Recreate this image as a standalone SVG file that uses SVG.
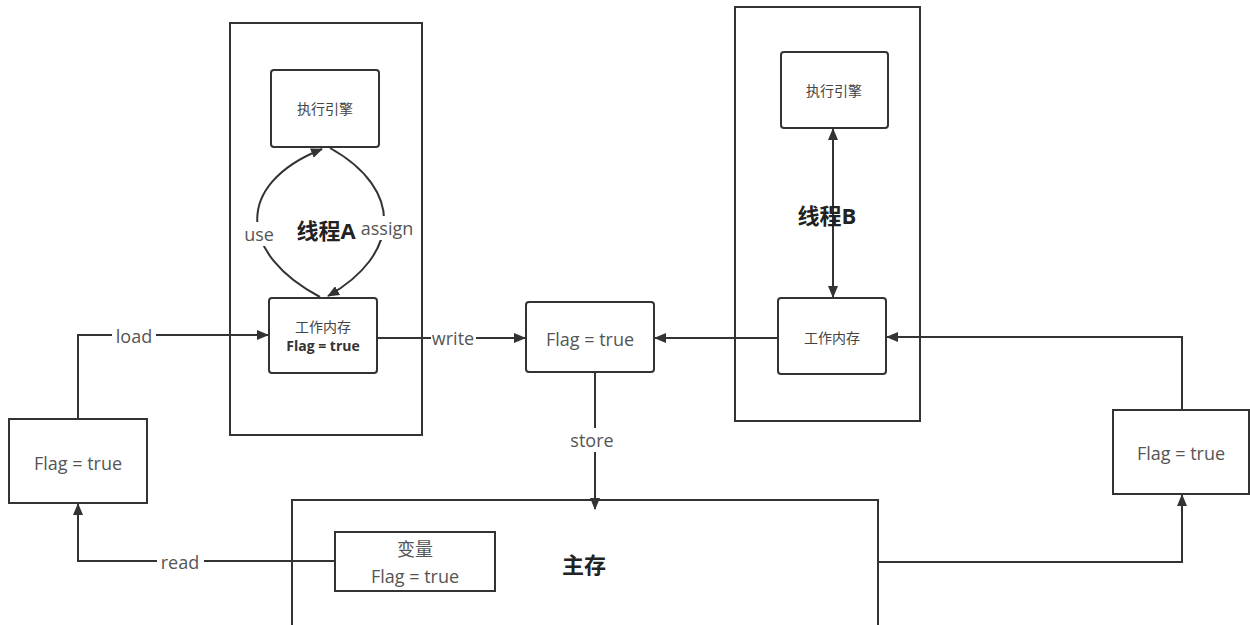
<svg xmlns="http://www.w3.org/2000/svg" width="1250" height="625" viewBox="0 0 1250 625">
<defs>
<marker id="ah" markerWidth="12" markerHeight="10" refX="11" refY="5" orient="auto-start-reverse" markerUnits="userSpaceOnUse">
<path d="M0,0 L12,5 L0,10 z" fill="#333"/>
</marker>
<style>
text{font-family:"Open Sans","Noto Sans","Noto Sans CJK SC",sans-serif;fill:#555;text-anchor:middle;dominant-baseline:central}
.box{fill:#fff;stroke:#333;stroke-width:2}
.ln{fill:none;stroke:#333;stroke-width:2}
.lbl{font-size:18px}
.sm{font-size:14px;fill:#444}
.smb{font-size:14px;font-weight:bold;fill:#333}
.big{font-size:22px;font-weight:bold;fill:#222}
.bg{fill:#fff;stroke:none}
</style>
</defs>
<rect width="1250" height="625" fill="#fff"/>

<g id="threadA">
<rect class="box" x="230" y="23" width="192" height="412"/>
</g>
<g id="threadB">
<rect class="box" x="735" y="7" width="185" height="414"/>
</g>
<g id="mainMemory">
<rect class="box" x="292" y="500" width="586" height="140"/>
<text class="big" x="584" y="564">主存</text>
</g>

<g id="connectors">
<path class="ln" d="M320,297 C240,255 232,185 322,149" marker-end="url(#ah)"/>
<path class="ln" d="M330,148 C405,190 400,255 328,296" marker-end="url(#ah)"/>
<path class="ln" d="M833,129 L833,297" marker-start="url(#ah)" marker-end="url(#ah)"/>
<path class="ln" d="M78,419 L78,335 L268,335" marker-end="url(#ah)"/>
<path class="ln" d="M335,561 L78,561 L78,504" marker-end="url(#ah)"/>
<path class="ln" d="M377,338 L525,338" marker-end="url(#ah)"/>
<path class="ln" d="M778,338 L655,338" marker-end="url(#ah)"/>
<path class="ln" d="M595,373 L595,509" marker-end="url(#ah)"/>
<path class="ln" d="M878,562 L1182,562 L1182,495" marker-end="url(#ah)"/>
<path class="ln" d="M1182,410 L1182,337 L887,337" marker-end="url(#ah)"/>
<rect class="bg" x="242" y="222" width="34" height="24"/>
<text class="lbl" x="259" y="234">use</text>
<rect class="bg" x="359" y="216" width="57" height="24"/>
<text class="lbl" x="387" y="228">assign</text>
<rect class="bg" x="112" y="324" width="44" height="24"/>
<text class="lbl" x="134" y="336">load</text>
<rect class="bg" x="157" y="550" width="47" height="24"/>
<text class="lbl" x="180" y="562">read</text>
<rect class="bg" x="431" y="327" width="45" height="24"/>
<text class="lbl" x="453" y="338">write</text>
<rect class="bg" x="567" y="428" width="51" height="24"/>
<text class="lbl" x="592" y="440">store</text>
</g>

<g id="threadA-label"><text class="big" x="326" y="230">线程A</text></g>
<g id="threadB-label"><text class="big" x="827" y="215">线程B</text></g>

<g id="engineA">
<rect class="box" x="271" y="70" width="108" height="77" rx="3"/>
<text class="sm" x="325" y="108">执行引擎</text>
</g>
<g id="workA">
<rect class="box" x="269" y="298" width="108" height="75" rx="3"/>
<text class="sm" x="323" y="326">工作内存</text>
<text class="smb" x="323" y="345">Flag = true</text>
</g>
<g id="engineB">
<rect class="box" x="781" y="52" width="107" height="76" rx="3"/>
<text class="sm" x="834" y="90">执行引擎</text>
</g>
<g id="workB">
<rect class="box" x="778" y="298" width="108" height="76" rx="3"/>
<text class="sm" x="832" y="337">工作内存</text>
</g>
<g id="midFlag">
<rect class="box" x="526" y="302" width="128" height="70" rx="3"/>
<text class="lbl" x="590" y="339">Flag = true</text>
</g>
<g id="leftFlag">
<rect class="box" x="9" y="419" width="138" height="84"/>
<text class="lbl" x="78" y="463">Flag = true</text>
</g>
<g id="rightFlag">
<rect class="box" x="1113" y="410" width="136" height="84"/>
<text class="lbl" x="1181" y="453">Flag = true</text>
</g>
<g id="variable">
<rect class="box" x="335" y="532" width="160" height="59"/>
<text class="lbl" x="415" y="549">变量</text>
<text class="lbl" x="415" y="576">Flag = true</text>
</g>
</svg>
